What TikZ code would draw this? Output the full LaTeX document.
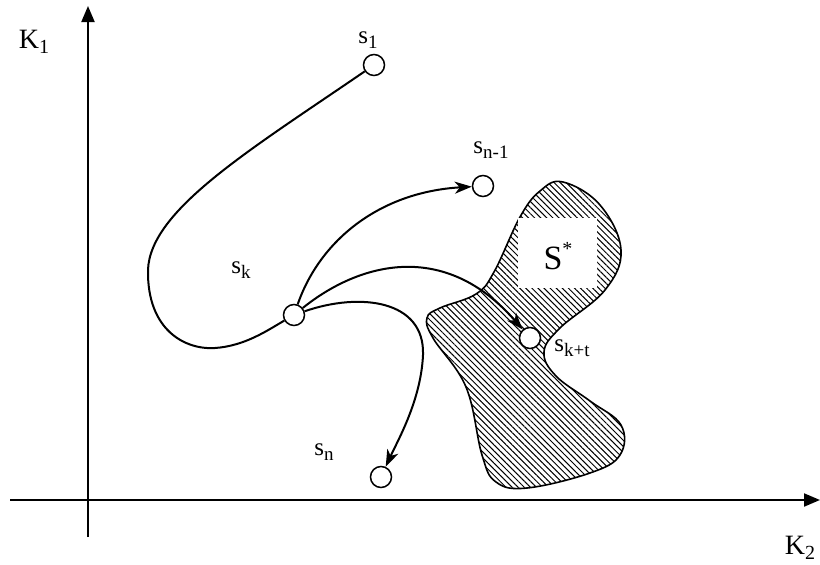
\documentclass[tikz,border=0pt]{standalone}
\usepackage{fontspec}
\setmainfont{Liberation Serif}
\usetikzlibrary{arrows.meta,patterns.meta}
\newcommand{\slab}[2]{\fontsize{25}{25}\selectfont s\raisebox{-0.2em}{\fontsize{19}{19}\selectfont #2}}
\newcommand{\klab}[1]{\fontsize{28}{28}\selectfont K\raisebox{-0.2em}{\fontsize{20}{20}\selectfont #1}}
\begin{document}
\begin{tikzpicture}[x=1pt,y=-1pt,
  state/.style={circle,draw,line width=1.5pt,fill=white,minimum size=21pt,inner sep=0pt},
  curve/.style={line width=2pt},
  axis/.style={line width=2pt,-{Triangle[length=16pt,width=13pt]}},
  arr/.style={curve,-{Stealth[length=17pt,width=12pt,inset=5pt]}},
  lbl/.style={inner sep=0pt}]
\useasboundingbox (0,0) rectangle (820,565);
% region S*
\draw[line width=1.6pt, pattern={Lines[angle=-45,distance=4.3pt,line width=1pt]}]
  plot[smooth cycle, tension=0.65] coordinates {
   (563,182) (600,205) (621,250) (605,290) (560,328) (544,352) (556,376)
   (590,401) (621,425) (620,455) (590,473) (527,488) (496,482) (482,455)
   (466,387) (433,338) (427,318) (440,308) (476,294) (494,272) (520,217) (540,191)};
\node[fill=white,minimum width=79pt,minimum height=70pt,inner sep=0pt] (box) at (557.5,253) {};
\node[lbl] (Sstar) at (558,256) {\fontsize{34}{34}\selectfont S\raisebox{0.42em}{\fontsize{20}{20}\selectfont *}};
% axes
\coordinate (yb) at (88,537);
\coordinate (yt) at (88,6);
\coordinate (xl) at (10,500);
\coordinate (xr) at (820,500);
\draw[axis] (yb) -- (yt);
\draw[axis] (xl) -- (xr);
\node[lbl] (K1) at (34,42) {\klab{1}};
\node[lbl] (K2) at (800,548) {\klab{2}};
% states
\node[state] (s1) at (374,65) {};
\node[state] (sn1) at (483,186) {};
\node[state] (sk) at (294,315) {};
\node[state] (skt) at (530,338) {};
\node[state] (sn) at (381,477) {};
% curves
\draw[curve] (s1) .. controls (250,150) and (150,210) .. (148,270)
   .. controls (147,330) and (185,350) .. (215,348)
   .. controls (245,346) and (268,330) .. (sk);
\draw[arr] (sk) .. controls (320,240) and (380,192) .. (sn1);
\draw[arr] (sk) .. controls (360,262) and (445,240) .. (skt);
\draw[arr] (sk) .. controls (360,292) and (425,300) .. (423,355)
   .. controls (421,400) and (398,440) .. (sn);
% labels
\node[lbl] (l1) at (368,40) {\slab{s}{1}};
\node[lbl] (ln1) at (491,150) {\slab{s}{n-1}};
\node[lbl] (lk) at (241,270) {\slab{s}{k}};
\node[lbl] (lkt) at (572,348) {\slab{s}{k+t}};
\node[lbl] (ln) at (324,452) {\slab{s}{n}};
\end{tikzpicture}
\end{document}
